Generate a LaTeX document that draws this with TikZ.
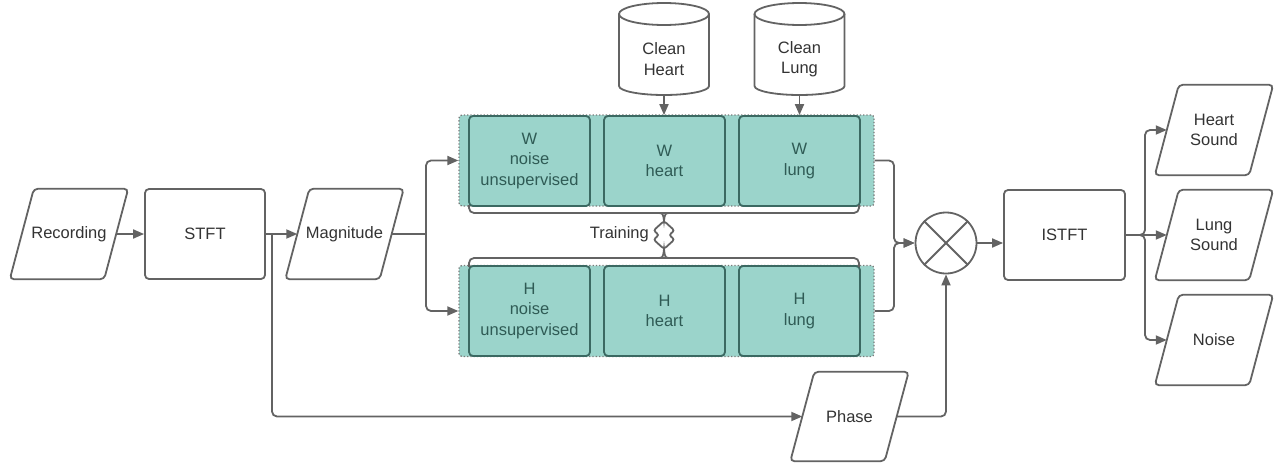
\documentclass[tikz,border=0pt]{standalone}
\usepackage{fontspec}
\setmainfont{Liberation Sans}
\usetikzlibrary{shapes.geometric,arrows.meta,calc}
\definecolor{lg}{HTML}{636363}
\definecolor{tx}{HTML}{333333}
\definecolor{tf}{HTML}{9BD4CB}
\definecolor{tb}{HTML}{3B6962}
\definecolor{tt}{HTML}{2F5B55}
\definecolor{dg}{HTML}{7A7A7A}
\newcommand\ftx{\fontsize{16.5}{20.5}\selectfont}
\newcommand\cylshape[1]{%
  \draw[ln,fill=white] (#1-45,14) -- (#1-45,86) arc[start angle=180,end angle=360,x radius=45pt,y radius=9pt] -- (#1+45,14);
  \draw[ln] (#1,14) ellipse[x radius=45pt,y radius=11pt];}
\newcommand\parab[1]{%
  \draw[ln, rounded corners=4pt] ($(#1.south west)+(-12,0)$) -- ($(#1.north west)+(12,0)$) -- ($(#1.north east)+(12,0)$) -- ($(#1.south east)+(-12,0)$) -- cycle;}
\begin{document}
\begin{tikzpicture}[x=1pt,y=-1pt,
  ln/.style={draw=lg, line width=1.8pt},
  arr/.style={ln, -{Triangle[length=11pt,width=9pt]}},
  para/.style={rectangle, minimum width=94pt, minimum height=90pt, inner sep=0pt, font=\ftx, text=tx, align=center},
  box/.style={rectangle, draw=lg, line width=1.8pt, rounded corners=4pt, minimum width=120pt, minimum height=90pt, font=\ftx, text=tx},
  grp/.style={rectangle, fill=tf, draw=dg, dotted, line width=1.3pt, rounded corners=3pt, minimum width=415pt, minimum height=91pt, inner sep=0pt},
  tbox/.style={rectangle, fill=tf, draw=tb, line width=1.8pt, rounded corners=4pt, minimum width=121pt, minimum height=90pt, inner sep=0pt, font=\ftx, text=tt, align=center},
  lbl/.style={font=\ftx, text=tx, align=center, inner sep=0pt}
]
\useasboundingbox (0,0) rectangle (1274,463);

% main chain
\node[para] (rec) at (69,234) {Recording};
\parab{rec}
\node[box] (stft) at (205,234) {STFT};
\node[para] (mag) at (344.5,234) {Magnitude};
\parab{mag}

% groups
\node[grp] (wg) at (666.5,160.5) {};
\node[grp] (hg) at (666.5,311) {};
\node[tbox] (wn) at (529.5,161) {W\\noise\\unsupervised};
\node[tbox] (wh) at (664.5,161) {W\\heart};
\node[tbox] (wl) at (799.5,161) {W\\lung};
\node[tbox] (hn) at (529.5,311) {H\\noise\\unsupervised};
\node[tbox] (hh) at (664.5,311) {H\\heart};
\node[tbox] (hl) at (799.5,311) {H\\lung};

% cylinders
\cylshape{664}
\cylshape{799.5}
\node[minimum width=90pt, minimum height=92pt, inner sep=0pt] (ch) at (664,49) {};
\node[minimum width=90pt, minimum height=92pt, inner sep=0pt] (cl) at (799.5,49) {};
\node[lbl] (cht) at (664,59) {Clean\\Heart};
\node[lbl] (clt) at (799.5,59) {Clean\\Lung};
\draw[arr] (ch.south) -- (ch.south |- wh.north);
\draw[arr] (cl.south) -- (cl.south |- wl.north);

% braces and training link
\draw[ln, rounded corners=5pt] (469,205) |- (664,213) -| (859,205);
\draw[ln] (657,213) .. controls (663,213) .. (664,221) .. controls (665,213) .. (671,213);
\draw[ln, rounded corners=5pt] (469,267) |- (664,258) -| (859,267);
\draw[ln] (657,258) .. controls (663,258) .. (664,249) .. controls (665,258) .. (671,258);
\draw[ln, rounded corners=2.5pt] (664,221) -- (653.5,230.5) -- (659,235) -- (653.5,239.5) -- (664,249) -- (674.5,239.5) -- (669,235) -- (674.5,230.5) -- cycle;
\node[lbl, anchor=east] (tr) at (649,234) {Training};

% multiplier
\node[circle, draw=lg, line width=1.8pt, minimum size=61pt, inner sep=0pt] (mult) at (946,243) {};
\draw[ln] (mult.45) -- (mult.225);
\draw[ln] (mult.135) -- (mult.315);

\node[box, minimum width=121pt] (istft) at (1064.5,235) {ISTFT};
\node[para, minimum height=89pt] (ph) at (849.5,416.5) {Phase};
\parab{ph}
\node[para] (hs) at (1214,130) {Heart\\Sound};
\parab{hs}
\node[para] (ls) at (1214,235) {Lung\\Sound};
\parab{ls}
\node[para] (ns) at (1214,340) {Noise};
\parab{ns}

% connectors
\draw[arr] (rec) -- (stft);
\draw[arr] (stft) -- (mag);
\coordinate (sp) at (272,234);
\draw[arr, rounded corners=5pt] (sp) |- (ph);
\coordinate (mj) at (426,234);
\draw[ln] (mag) -- (mj);
\draw[arr, rounded corners=5pt] (mj) |- (wg);
\draw[arr, rounded corners=5pt] (mj) |- (hg);
\coordinate (rj) at (894,243);
\draw[arr, rounded corners=5pt] (wg) -| (rj) -- (mult);
\draw[arr, rounded corners=5pt] (hg) -| (rj) -- (mult);
\draw[arr, rounded corners=5pt] (ph) -| (mult);
\draw[arr] (mult.east) -- (mult.east -| istft.west);
\coordinate (oj) at (1145,235);
\draw[arr, rounded corners=5pt] (istft) -- (oj) |- (hs);
\draw[arr, rounded corners=5pt] (istft) -- (oj) |- (ns);
\draw[arr] (istft) -- (ls);
\end{tikzpicture}
\end{document}
